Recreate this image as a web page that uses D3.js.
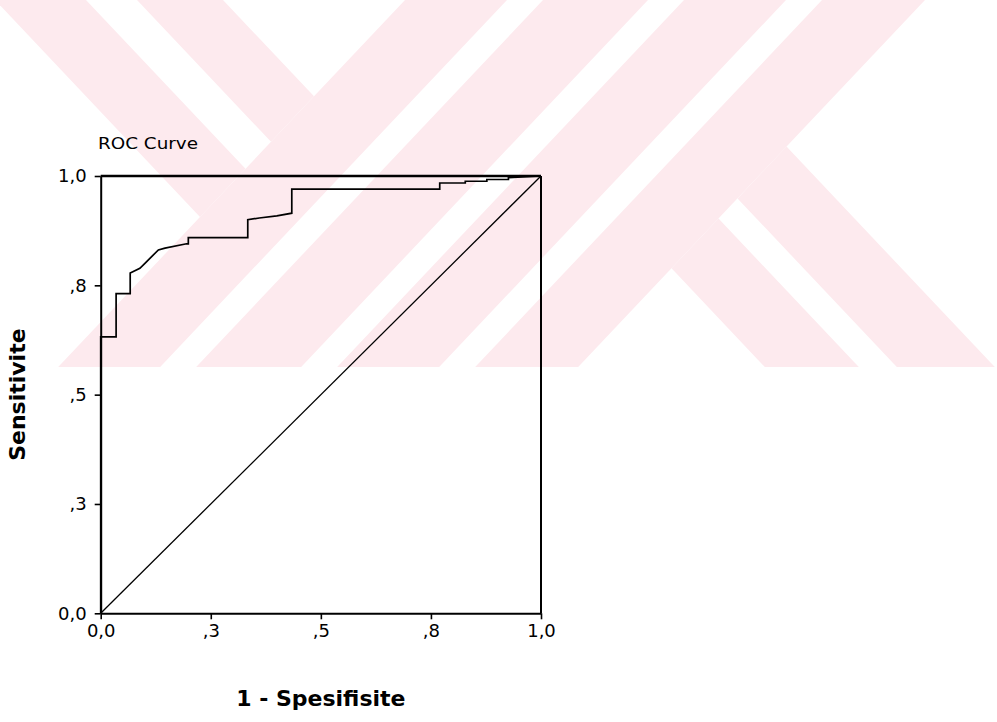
<!DOCTYPE html>
<html>
<head>
<meta charset="utf-8">
<script src="https://cdn.jsdelivr.net/npm/d3@7"></script>
<style>
  html, body { margin: 0; padding: 0; background: #ffffff; }
  svg { display: block; }
</style>
</head>
<body>
<svg id="chart" width="997" height="722"></svg>
<script>
// ROC curve: 1 - specificity (false positive rate) vs sensitivity
const fpr = [0, 0, 0.035, 0.035, 0.067, 0.067, 0.089, 0.101, 0.131, 0.146, 0.195, 0.199, 0.199,
             0.334, 0.334, 0.36, 0.40, 0.434, 0.434, 0.770, 0.770, 0.828, 0.828, 0.877, 0.877,
             0.926, 0.926, 1];
const tpr = [0, 0.632, 0.632, 0.731, 0.731, 0.778, 0.789, 0.801, 0.831, 0.835, 0.845, 0.845, 0.859,
             0.859, 0.900, 0.904, 0.909, 0.915, 0.970, 0.970, 0.984, 0.984, 0.988, 0.988, 0.992,
             0.992, 0.996, 1];
// chance reference line
const refX = [0, 1];
const refY = [0, 1];

const tickValues = [0, 0.25, 0.5, 0.75, 1];
const tickLabels = ["0,0", ",3", ",5", ",8", "1,0"];

const chartTitle = "ROC Curve";
const xTitle = "1 - Spesifisite";
const yTitle = "Sensitivite";

const svg = d3.select("#chart");
const W = 997, H = 722;

// ---- background watermark (pale diagonal bands in the upper part of the page) ----
const wm = svg.append("g");
const defs = svg.append("defs");
defs.append("clipPath").attr("id", "wmClip")
  .append("rect").attr("x", 0).attr("y", 0).attr("width", W).attr("height", 367);
wm.attr("clip-path", "url(#wmClip)");
const k = 0.945;               // horizontal run per unit of vertical drop
const wmFill = "#fdeaee";
const rising = [[405, 507], [543, 648], [684, 786], [822, 925]];   // "/" bands, x + k*y = c
const leftFalling = [[-5, 86], [137, 223]];                        // "\" bands left of the rising group
const rightFalling = [[418, 512], [550, 648]];                     // "\" bands right of the rising group
const cLeft = 405, cRight = 925;
const poly = pts => pts.map(p => p.join(",")).join(" ");
rising.forEach(([c0, c1]) => {
  wm.append("polygon").attr("fill", wmFill).attr("points", poly([
    [c0 + k * 10, -10], [c1 + k * 10, -10], [c1 - k * 400, 400], [c0 - k * 400, 400]
  ]));
});
leftFalling.forEach(([d0, d1]) => {
  wm.append("polygon").attr("fill", wmFill).attr("points", poly([
    [d0 - k * 10, -10], [d1 - k * 10, -10],
    [(cLeft + d1) / 2, (cLeft - d1) / (2 * k)], [(cLeft + d0) / 2, (cLeft - d0) / (2 * k)]
  ]));
});
rightFalling.forEach(([d0, d1]) => {
  wm.append("polygon").attr("fill", wmFill).attr("points", poly([
    [(cRight + d0) / 2, (cRight - d0) / (2 * k)], [(cRight + d1) / 2, (cRight - d1) / (2 * k)],
    [d1 + k * 400, 400], [d0 + k * 400, 400]
  ]));
});

// ---- plot ----
const x = d3.scaleLinear().domain([0, 1]).range([100.7, 541]);
const y = d3.scaleLinear().domain([0, 1]).range([613.3, 176]);

const ink = "#000000";
const tickFont = "'DejaVu Sans', sans-serif";

const xAxis = d3.axisBottom(x).tickValues(tickValues)
  .tickFormat((d, i) => tickLabels[i]).tickSize(6).tickSizeOuter(0).tickPadding(5);
const yAxis = d3.axisLeft(y).tickValues(tickValues)
  .tickFormat((d, i) => tickLabels[i]).tickSize(6).tickSizeOuter(0).tickPadding(8);

const gx = svg.append("g").attr("transform", `translate(0,${y(0)})`).call(xAxis);
const gy = svg.append("g").attr("transform", `translate(${x(0)},0)`).call(yAxis);
[gx, gy].forEach(g => {
  g.select(".domain").attr("stroke", ink).attr("stroke-width", 2);
  g.selectAll(".tick line").attr("stroke", ink).attr("stroke-width", 1.6);
  g.selectAll(".tick text").attr("fill", ink)
    .style("font-family", tickFont).style("font-size", "18px");
});

// frame: top and right edges
svg.append("line").attr("x1", x(0)).attr("x2", x(1)).attr("y1", y(1)).attr("y2", y(1))
  .attr("stroke", ink).attr("stroke-width", 2.5);
svg.append("line").attr("x1", x(1)).attr("x2", x(1)).attr("y1", y(1)).attr("y2", y(0))
  .attr("stroke", ink).attr("stroke-width", 2);

// reference diagonal
const line = d3.line().x(d => x(d[0])).y(d => y(d[1]));
svg.append("path").datum(d3.zip(refX, refY)).attr("d", line)
  .attr("fill", "none").attr("stroke", ink).attr("stroke-width", 1.3);

// ROC curve
svg.append("path").datum(d3.zip(fpr, tpr)).attr("d", line)
  .attr("fill", "none").attr("stroke", ink).attr("stroke-width", 1.7)
  .attr("stroke-linejoin", "miter");

// ---- text ----
svg.append("text").attr("x", 98).attr("y", 149)
  .attr("textLength", 100).attr("lengthAdjust", "spacingAndGlyphs")
  .style("font-family", tickFont).style("font-size", "16px").attr("fill", ink)
  .text(chartTitle);

svg.append("text").attr("x", (x(0) + x(1)) / 2).attr("y", 706)
  .attr("text-anchor", "middle")
  .style("font-family", "'DejaVu Sans', sans-serif").style("font-weight", "bold")
  .style("font-size", "22px").attr("fill", ink)
  .text(xTitle);

svg.append("text")
  .attr("transform", `translate(25,${(y(0) + y(1)) / 2}) rotate(-90)`)
  .attr("text-anchor", "middle")
  .style("font-family", "'DejaVu Sans', sans-serif").style("font-weight", "bold")
  .style("font-size", "22px").attr("fill", ink)
  .text(yTitle);
</script>
</body>
</html>
